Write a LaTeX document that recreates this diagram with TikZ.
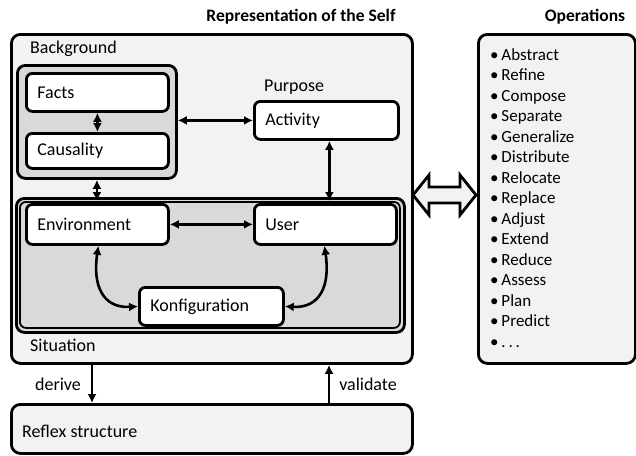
\documentclass[tikz,border=0pt]{standalone}
\usepackage{fontspec}
\setmainfont{Carlito}
\usetikzlibrary{arrows.meta}
\definecolor{lg}{HTML}{F2F2F2}
\definecolor{mg}{HTML}{D9D9D9}
\newcommand\fsz{\fontsize{18}{21}\selectfont}
\newcommand\fttl{\fontsize{17.5}{21}\selectfont}
\newcommand\fop{\fontsize{17}{20.5}\selectfont}
\begin{document}
\begin{tikzpicture}[x=1pt,y=-1pt,
  frame/.style={draw, line width=2.8pt, rounded corners=9pt, fill=lg, anchor=north west, inner sep=0pt},
  grp/.style={draw, line width=2.8pt, rounded corners=8pt, fill=mg, anchor=north west, inner sep=0pt},
  box/.style={draw, line width=2.8pt, rounded corners=6pt, fill=white, anchor=north west, inner xsep=11pt, inner ysep=0pt, align=left, font=\fsz},
  lbl/.style={anchor=west, inner sep=0pt, font=\fsz},
  ttl/.style={inner sep=0pt, font=\fttl\bfseries},
  arr/.style={line width=2.6pt, {Latex[length=9pt,width=9pt]}-{Latex[length=9pt,width=9pt]}},
  onearr/.style={line width=2.6pt, -{Latex[length=9pt,width=9pt]}},
  fat/.style={draw, line width=2.8pt, fill=lg, line join=miter}
]
\useasboundingbox (0,0) rectangle (636,455);

% titles
\node[ttl] (t1) at (301,17) {Representation of the Self};
\node[ttl] (t2) at (585,17) {Operations};

% main frame
\node[frame, minimum width=401pt, minimum height=329pt] (self) at (10,33) {};
\node[lbl] (bgl) at (30,49) {Background};

% background group
\node[grp, minimum width=159pt, minimum height=113pt] (bg) at (16,64) {};
\node[box, text width=120pt, minimum height=38pt] (facts) at (25,72) {Facts};
\node[box, text width=120pt, minimum height=35pt] (caus) at (25,132) {Causality};

% purpose
\node[lbl] (purl) at (264,87) {Purpose};
\node[box, text width=122pt, minimum height=38pt] (act) at (253,100) {Activity};

% situation
\node[grp, minimum width=388pt, minimum height=134pt] (sit) at (15,197) {};
\node[draw, line width=1.8pt, rounded corners=6pt, anchor=north west, inner sep=0pt, minimum width=380pt, minimum height=126pt] (sitin) at (19,201) {};
\node[box, text width=120pt, minimum height=40pt] (env) at (25,203) {Environment};
\node[box, text width=120pt, minimum height=40pt] (user) at (253,203) {User};
\node[box, text width=122pt, minimum height=38pt] (konf) at (138,286) {Konfiguration};
\node[lbl] (sitl) at (30,345) {Situation};

% reflex
\node[frame, minimum width=401pt, minimum height=49pt] (reflex) at (10,403) {};
\node[lbl] (refl) at (22,431) {Reflex structure};

% operations
\node[frame, minimum width=157pt, minimum height=329pt] (ops) at (477,33) {};
\node[anchor=north west, inner sep=0pt, align=left, font=\fop] (opl) at (490,48) {%
\textbullet\,Abstract\\
\textbullet\,Refine\\
\textbullet\,Compose\\
\textbullet\,Separate\\
\textbullet\,Generalize\\
\textbullet\,Distribute\\
\textbullet\,Relocate\\
\textbullet\,Replace\\
\textbullet\,Adjust\\
\textbullet\,Extend\\
\textbullet\,Reduce\\
\textbullet\,Assess\\
\textbullet\,Plan\\
\textbullet\,Predict\\
\textbullet\,.\,.\,.};

% connectors
\draw[arr] (facts.south) -- (caus.north);
\draw[arr] (bg.south) -- (sitin.north -| bg.south);
\draw[arr] (bg.east |- act.west) -- (act.west);
\draw[arr] ([xshift=3pt]act.south) -- ([xshift=3pt]act.south |- sitin.north);
\draw[arr] (env.east) -- (user.west);
\draw[arr] ([xshift=1pt]env.south) .. controls +(-6,40) and +(-35,2) .. (konf.west);
\draw[arr] ([xshift=-1pt]user.south) .. controls +(6,40) and +(35,2) .. (konf.east);

\coordinate (dx) at (92,0);
\coordinate (vx) at (329,0);
\draw[onearr] (self.south -| dx) -- (reflex.north -| dx);
\draw[onearr] (reflex.north -| vx) -- (self.south -| vx);
\node[inner sep=0pt, font=\fsz] (dl) at (58,384) {derive};
\node[inner sep=0pt, font=\fsz] (vl) at (368,384) {validate};

% fat double arrow
\coordinate (fa) at (413,195);
\draw[fat] (fa) -- ++(16,-20) -- ++(0,12) -- ++(31,0) -- ++(0,-12) -- ++(16,20)
  -- ++(-16,20) -- ++(0,-12) -- ++(-31,0) -- ++(0,12) -- cycle;
\end{tikzpicture}
\end{document}
